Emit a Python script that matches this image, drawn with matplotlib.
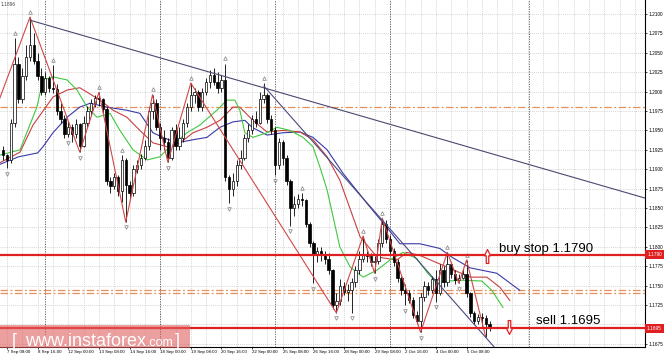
import numpy as np
import matplotlib.pyplot as plt
from matplotlib.path import Path
from matplotlib.patches import Rectangle
import matplotlib.transforms as mtransforms

plt.rcParams['font.family'] = ['Liberation Sans', 'DejaVu Sans']

# prices are written as pips above 1.1000
BASE = 1.1
first_bar = -1
first_open = 925
close_pips = [918, 912, 960, 1035, 990, 1020, 1045, 1060, 1040, 1020, 1000, 1018, 1005, 1003, 975, 965,
              945, 955, 945, 958, 930, 960, 975, 985, 992, 990, 978, 885, 878, 890, 872, 912,
              880, 870, 900, 905, 915, 930, 975, 985, 955, 940, 935, 915, 950, 930, 940, 960,
              980, 995, 1000, 980, 1000, 1012, 1022, 1012, 1005, 1015, 890, 875, 885, 905, 915, 940,
              950, 965, 960, 990, 995, 965, 950, 905, 935, 915, 885, 850, 855, 862, 860, 830,
              805, 790, 795, 790, 785, 770, 725, 730, 750, 742, 745, 755, 770, 785, 790, 788,
              780, 782, 805, 830, 810, 795, 780, 760, 745, 740, 732, 712, 705, 735, 750, 745,
              758, 740, 770, 755, 778, 765, 757, 760, 765, 740, 715, 705, 710, 708, 700, 697]
high_pips = [930, 920, 965, 1069, 1045, 1030, 1060, 1096, 1075, 1050, 1030, 1025, 1020, 1034, 1010, 985,
             970, 962, 958, 965, 960, 968, 982, 990, 995, 999, 992, 980, 890, 895, 893, 918,
             915, 885, 905, 912, 920, 938, 980, 996, 990, 960, 950, 940, 955, 958, 955, 965,
             985, 1011, 1005, 1002, 1005, 1018, 1028, 1030, 1025, 1022, 1036, 892, 895, 912, 925, 945,
             958, 970, 975, 1000, 1011, 998, 970, 955, 940, 938, 918, 888, 865, 868, 869, 862,
             832, 808, 800, 800, 795, 792, 772, 740, 758, 755, 752, 760, 775, 795, 814, 795,
             792, 788, 810, 837, 835, 815, 798, 785, 762, 752, 745, 735, 718, 740, 756, 755,
             762, 770, 778, 775, 793, 780, 770, 765, 772, 783, 742, 718, 713, 715, 712, 705]
low_pips = [912, 901, 908, 955, 985, 985, 1015, 1040, 1035, 1015, 995, 995, 1000, 998, 970, 960,
            940, 941, 935, 940, 922, 928, 955, 970, 980, 982, 972, 880, 870, 875, 865, 858,
            832, 860, 865, 895, 900, 912, 925, 965, 950, 925, 925, 909, 912, 925, 925, 935,
            955, 975, 985, 975, 975, 995, 1005, 1008, 998, 1000, 885, 856, 865, 878, 900, 912,
            935, 945, 955, 958, 985, 960, 945, 892, 900, 905, 880, 827, 840, 850, 852, 825,
            800, 753, 780, 782, 778, 765, 720, 715, 725, 738, 730, 715, 748, 765, 780, 780,
            775, 766, 778, 800, 805, 790, 775, 755, 738, 725, 728, 708, 700, 690, 730, 738,
            740, 729, 738, 748, 750, 760, 752, 753, 758, 735, 710, 700, 700, 698, 684, 692]

up_fractals = [2, 6, 12, 24, 30, 38, 48, 57, 67, 77, 93, 98, 115, 120]
down_fractals = [0, 16, 19, 31, 42, 58, 70, 74, 80, 86, 90, 96, 104, 108, 112, 118]

# alligator lines (bar, pips)
jaw_x = [-2, 3, 8, 9.4, 12, 15.7, 19, 21.7, 26.1, 31.3, 34.7, 38.1, 40.7, 44.4, 48.6, 52.2, 55.6, 59,
         62.1, 64, 67.9, 72.1, 76.5, 79.9, 83.6, 87.7, 94, 99.2, 102.6, 107.8, 113, 116.4, 120.9, 127.9, 133.9]
jaw_p = [906, 916, 921, 929, 947, 967, 980, 985, 980, 976, 972, 947, 941, 934, 938, 941, 954, 961,
         963, 954, 944, 947, 948, 941, 925, 895, 856, 825, 804, 804, 798, 786, 773, 766, 744]
teeth_x = [-2, 3.4, 6.8, 12, 15.7, 19, 24.3, 27.7, 31.3, 34.7, 38.1, 41.8, 45.2, 48.6, 52.2, 55.6, 59,
           60.8, 64.2, 67.9, 72.1, 76.5, 79.9, 83.6, 86.9, 92.2, 96.6, 101.8, 104.4, 107.8, 114.9,
           120.9, 125.3, 128.7, 131.3]
teeth_p = [908, 922, 957, 993, 1002, 1005, 989, 976, 967, 950, 934, 929, 934, 947, 954, 963, 980,
           980, 963, 948, 950, 948, 938, 916, 886, 813, 787, 783, 793, 789, 774, 761, 761, 748, 731]
lips_x = [-2, 3.4, 7.8, 9.4, 12, 15.7, 18.3, 20.9, 23.5, 26.9, 29.5, 32.9, 36.6, 39.9, 42.6, 47, 50.4,
          54.8, 57.4, 59.5, 60.8, 62.1, 64.2, 67.9, 70.5, 73.9, 77.3, 79.9, 81.7, 83.6, 86.9, 89.6,
          93, 96.6, 100, 103.4, 107, 109.7, 112.3, 115.1, 118.8, 124, 126.6, 129.5]
lips_p = [918, 925, 980, 1015, 1019, 1015, 1002, 980, 967, 972, 950, 925, 912, 916, 929, 947, 957,
          976, 989, 989, 976, 947, 941, 947, 954, 950, 941, 929, 903, 873, 800, 774,
          761, 770, 783, 793, 785, 767, 753, 756, 757, 756, 744, 722]

zigzag_x = [-2, 6, 19, 24, 31, 38, 42, 48, 86, 93, 96, 98, 108, 115, 118, 120, 125]
zigzag_p = [990, 1096, 922, 999, 832, 996, 909, 1011, 715, 814, 766, 837, 690, 793, 753, 783, 684]

trend_top_x = [6, 170]
trend_top_p = [1092, 858]
trend_chan_x = [67.1, 127.4]
trend_chan_p = [1007, 670]

buy_stop = 1.1790
sell_level = 1.1695
dashdot_levels = [1.1980, 1.1745, 1.1740]
week_separators = [10, 40, 70, 100, 136.3]

date_labels = ['7 Sep 08:00', '8 Sep 16:00', '12 Sep 00:00', '13 Sep 08:00', '14 Sep 16:00',
               '18 Sep 00:00', '19 Sep 08:00', '20 Sep 16:00', '22 Sep 00:00', '25 Sep 08:00',
               '26 Sep 16:00', '28 Sep 00:00', '29 Sep 08:00', '2 Oct 16:00', '4 Oct 00:00',
               '5 Oct 08:00']
price_ticks = [1.1675, 1.1725, 1.1750, 1.1775, 1.1800, 1.1825, 1.1850, 1.1875, 1.1900,
               1.1925, 1.1950, 1.1975, 1.2000, 1.2025, 1.2050, 1.2075, 1.2100]


def px(p):
    return BASE + np.asarray(p, dtype=float) / 10000.0


W, H = 665, 358
fig = plt.figure(figsize=(W / 100, H / 100), dpi=100)
ax = fig.add_axes([0, 11 / H, 645 / W, 347 / H])
ax.set_xlim(-1.83, 166.6)
ax.set_ylim(1.1671, 1.2118)

# grid
for gx in range(0, 168, 4):
    ax.axvline(gx, color='#c8c8c8', lw=0.5, ls=(0, (1.5, 1.5)), zorder=0)
for gy in price_ticks + [1.1700]:
    ax.axhline(gy, color='#c8c8c8', lw=0.5, ls=(0, (1.5, 1.5)), zorder=0)
for sx in week_separators:
    ax.axvline(sx, color='#555555', lw=0.6, ls=(0, (1.5, 1.5)), zorder=0.5)

# levels
for lv in dashdot_levels:
    ax.axhline(lv, color='#e8905a', lw=0.9, ls=(0, (6, 2, 1.5, 2)), zorder=1)
ax.axhline(buy_stop, color='#e02020', lw=1.6, zorder=6)
ax.axhline(sell_level, color='#e02020', lw=1.6, zorder=6)

# candles
closes = px(close_pips)
highs = px(high_pips)
lows = px(low_pips)
opens = np.concatenate([[px(first_open)], closes[:-1]])
idx = np.arange(first_bar, first_bar + len(closes))
bull = closes >= opens
body_lo = np.minimum(opens, closes)
body_h = np.maximum(np.abs(closes - opens), 0.00004)
ax.vlines(idx, lows, highs, color='black', lw=0.6, zorder=3)
ax.bar(idx, body_h, bottom=body_lo, width=0.62,
       color=np.where(bull, 'white', 'black'), edgecolor='black', linewidth=0.5, zorder=4)

# alligator
ax.plot(jaw_x, px(jaw_p), color='#3a3aa8', lw=0.8, zorder=2)
ax.plot(teeth_x, px(teeth_p), color='#c84040', lw=0.8, zorder=2)
ax.plot(lips_x, px(lips_p), color='#40c840', lw=0.8, zorder=2)

# zigzag and trend lines
ax.plot(zigzag_x, px(zigzag_p), color='#d04848', lw=0.8, zorder=5)
ax.plot(trend_top_x, px(trend_top_p), color='#4a4a70', lw=0.8, zorder=5)
ax.plot(trend_chan_x, px(trend_chan_p), color='#4a4a80', lw=0.8, zorder=5)

# fractal marks
up_i = np.array(up_fractals)
dn_i = np.array(down_fractals)
ax.plot(up_i, highs[up_i - first_bar] + 0.0007, ls='none', marker='^', ms=2.6,
        mfc='none', mec='#808080', mew=0.5, zorder=5)
ax.plot(dn_i, lows[dn_i - first_bar] - 0.0007, ls='none', marker='v', ms=2.6,
        mfc='none', mec='#808080', mew=0.5, zorder=5)

# hollow arrows
up_arrow = Path([(-0.45, 0.1), (0, 1), (0.45, 0.1), (0.18, 0.1), (0.18, -1), (-0.18, -1),
                 (-0.18, 0.1), (-0.45, 0.1)], closed=True)
down_arrow = Path([(-0.45, -0.1), (0, -1), (0.45, -0.1), (0.18, -0.1), (0.18, 1), (-0.18, 1),
                   (-0.18, -0.1), (-0.45, -0.1)], closed=True)
ax.plot([125.3], [1.1788], marker=up_arrow, ms=10, mfc='white', mec='#e02020', mew=0.9, zorder=7)
ax.plot([131.1], [1.1697], marker=down_arrow, ms=10, mfc='white', mec='#e02020', mew=0.9, zorder=7)

ax.text(128.5, 1.17932, 'buy stop 1.1790', fontsize=9.5, va='baseline', ha='left', zorder=8)
ax.text(138.1, 1.17004, 'sell 1.1695', fontsize=9.5, va='baseline', ha='left', zorder=8)

# axes styling
for s in ['left', 'top']:
    ax.spines[s].set_visible(False)
for s in ['right', 'bottom']:
    ax.spines[s].set_color('black')
    ax.spines[s].set_linewidth(0.8)
ax.yaxis.tick_right()
ax.set_yticks(price_ticks)
ax.set_yticklabels([f'{v:.4f}' for v in price_ticks])
ax.set_xticks(np.arange(0, 8 * len(date_labels), 8))
ax.set_xticklabels(date_labels, ha='left')
ax.tick_params(axis='y', labelsize=3.4, length=1.5, width=0.5, pad=0.8, colors='black')
ax.tick_params(axis='x', labelsize=3.2, length=1.5, width=0.5, pad=1.0, colors='black')

# price boxes on the right scale
tr = mtransforms.blended_transform_factory(ax.transAxes, ax.transData)
for lv, lab in [(buy_stop, '1.1790'), (sell_level, '1.1695')]:
    ax.add_patch(Rectangle((1.0, lv - 0.00055), 19 / 645, 0.0011, transform=tr,
                           facecolor='#e02020', edgecolor='none', clip_on=False, zorder=9))
    ax.text(1.0 + 9.5 / 645, lv, lab, transform=tr, fontsize=3.4, color='white',
            ha='center', va='center', clip_on=False, zorder=10)

# watermark
fig.patches.append(Rectangle((0, 10 / H), 190 / W, 23 / H, transform=fig.transFigure,
                             facecolor='#e06060', alpha=0.6, edgecolor='none', zorder=20))
fig.text(12 / W, 1 - 346 / H, '[', fontsize=13, color='white', zorder=21)
fig.text(25 / W, 1 - 346 / H, 'www.instaforex', fontsize=13, color='white', zorder=21)
fig.text(147 / W, 1 - 346 / H, '.com', fontsize=9, color='white', zorder=21)
fig.text(175 / W, 1 - 346 / H, ']', fontsize=13, color='white', zorder=21)
fig.text(1 / W, 1 - 6 / H, '1.1896', fontsize=3.5, color='#444444')

fig.savefig('out.png', dpi=100)
